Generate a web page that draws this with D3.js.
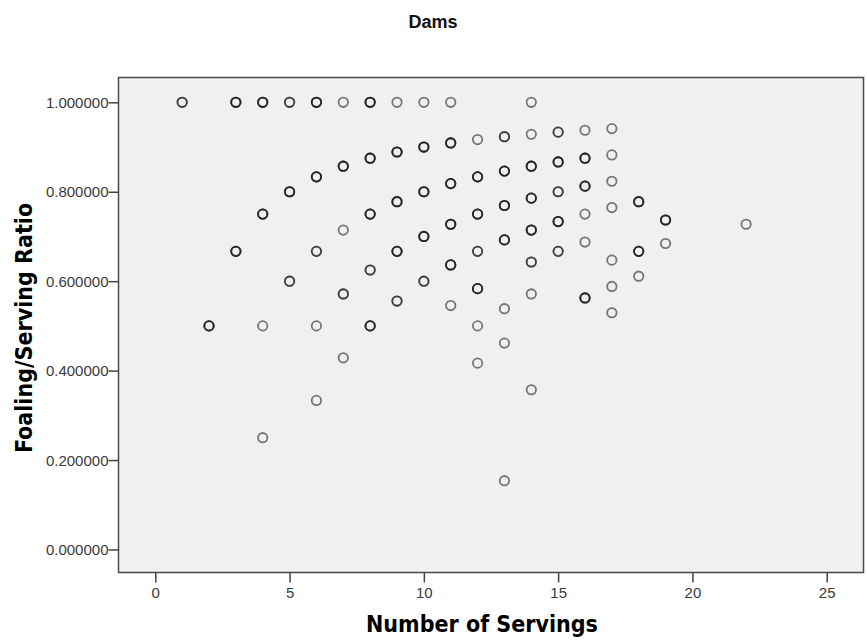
<!DOCTYPE html>
<html>
<head>
<meta charset="utf-8">
<script src="https://cdn.jsdelivr.net/npm/d3@7"></script>
<style>
  html, body { margin: 0; padding: 0; background: #fff; }
  svg { display: block; }
</style>
</head>
<body>
<svg id="chart" width="867" height="642"></svg>
<script>
// Dams: number of servings vs. foaling/serving ratio.
// Each record: servings, foalings, and how many dams share that exact point.
const servings = [
  1,
  2,
  3, 3,
  4, 4, 4, 4,
  5, 5, 5,
  6, 6, 6, 6, 6,
  7, 7, 7, 7, 7,
  8, 8, 8, 8, 8,
  9, 9, 9, 9, 9,
  10, 10, 10, 10, 10,
  11, 11, 11, 11, 11, 11,
  12, 12, 12, 12, 12, 12, 12,
  13, 13, 13, 13, 13, 13, 13,
  14, 14, 14, 14, 14, 14, 14, 14,
  15, 15, 15, 15, 15,
  16, 16, 16, 16, 16, 16,
  17, 17, 17, 17, 17, 17, 17,
  18, 18, 18,
  19, 19,
  22
];
const foalings = [
  1,
  1,
  3, 2,
  4, 3, 2, 1,
  5, 4, 3,
  6, 5, 4, 3, 2,
  7, 6, 5, 4, 3,
  8, 7, 6, 5, 4,
  9, 8, 7, 6, 5,
  10, 9, 8, 7, 6,
  11, 10, 9, 8, 7, 6,
  11, 10, 9, 8, 7, 6, 5,
  12, 11, 10, 9, 7, 6, 2,
  14, 13, 12, 11, 10, 9, 8, 5,
  14, 13, 12, 11, 10,
  15, 14, 13, 12, 11, 9,
  16, 15, 14, 13, 11, 10, 9,
  14, 12, 11,
  14, 13,
  16
];
const damCounts = [
  2,
  3,
  3, 3,
  3, 3, 1, 1,
  2, 3, 2,
  3, 3, 2, 1, 1,
  1, 3, 1, 2, 1,
  3, 3, 3, 2, 3,
  1, 3, 3, 3, 2,
  1, 3, 3, 3, 2,
  1, 3, 3, 3, 3, 1,
  1, 3, 3, 2, 3, 1, 1,
  2, 3, 3, 3, 1, 1, 1,
  1, 1, 3, 3, 3, 2, 1, 1,
  2, 3, 2, 3, 2,
  1, 3, 3, 1, 1, 3,
  1, 1, 1, 1, 1, 1, 1,
  3, 3, 1,
  3, 1,
  1
];
const xTicks = [0, 5, 10, 15, 20, 25];
const yTicks = [0, 0.2, 0.4, 0.6, 0.8, 1.0];

const chartTitle = "Dams";
const xTitle = "Number of Servings";
const yTitle = "Foaling/Serving Ratio";

// Expand each point into one record per dam so overlapping circles darken
const records = [];
servings.forEach((s, i) => {
  for (let c = 0; c < damCounts[i]; c++) {
    records.push({ servings: s, ratio: foalings[i] / s });
  }
});

const plot = { left: 118.5, right: 863.5, top: 77.5, bottom: 572.5 };

const x = d3.scaleLinear().domain([-1.37, 26.37]).range([plot.left, plot.right]);
const y = d3.scaleLinear().domain([-0.0515, 1.0555]).range([plot.bottom, plot.top]);

const svg = d3.select("#chart");

// Plot area background
svg.append("rect")
  .attr("x", plot.left).attr("y", plot.top)
  .attr("width", plot.right - plot.left)
  .attr("height", plot.bottom - plot.top)
  .attr("fill", "#f0f0f0");

// Axes
const xAxis = d3.axisBottom(x).tickValues(xTicks).tickSize(10).tickSizeOuter(0)
  .tickFormat(d3.format("d"));
const yAxis = d3.axisLeft(y).tickValues(yTicks).tickSize(10).tickSizeOuter(0)
  .tickFormat(d3.format(".6f"));

const gx = svg.append("g")
  .attr("transform", `translate(0,${plot.bottom})`)
  .call(xAxis);
const gy = svg.append("g")
  .attr("transform", `translate(${plot.left},0)`)
  .call(yAxis);

[gx, gy].forEach(g => {
  g.select(".domain").remove();
  g.selectAll(".tick line").attr("stroke", "#444").attr("stroke-width", 1.5);
  g.selectAll(".tick text")
    .attr("fill", "#3a3a3a")
    .attr("font-family", "Arial, 'Liberation Sans', sans-serif")
    .attr("font-size", "15px");
});
gx.selectAll(".tick text").attr("y", 15).attr("dy", "0.71em");
gy.selectAll(".tick text").attr("x", -10).attr("dy", "0.35em");

// Frame around the plot area
svg.append("rect")
  .attr("x", plot.left).attr("y", plot.top)
  .attr("width", plot.right - plot.left)
  .attr("height", plot.bottom - plot.top)
  .attr("fill", "none")
  .attr("stroke", "#4a4a4a")
  .attr("stroke-width", 1.5);

// Points
svg.append("g")
  .selectAll("circle")
  .data(records)
  .join("circle")
  .attr("cx", d => x(d.servings))
  .attr("cy", d => y(d.ratio))
  .attr("r", 4.7)
  .attr("fill", "none")
  .attr("stroke", "#111")
  .attr("stroke-opacity", 0.55)
  .attr("stroke-width", 1.8);

// Titles
svg.append("text")
  .attr("x", 433).attr("y", 28)
  .attr("text-anchor", "middle")
  .attr("font-family", "Arial, 'Liberation Sans', sans-serif")
  .attr("font-weight", "bold")
  .attr("font-size", "18px")
  .attr("fill", "#111")
  .text(chartTitle);

svg.append("text")
  .attr("x", (plot.left + plot.right) / 2 - 9).attr("y", 632)
  .attr("text-anchor", "middle")
  .attr("font-family", "'DejaVu Sans Condensed', 'DejaVu Sans', sans-serif")
  .attr("font-weight", "bold")
  .attr("font-size", "23px")
  .attr("fill", "#000")
  .text(xTitle);

svg.append("text")
  .attr("transform", `translate(32,${(plot.top + plot.bottom) / 2 + 3}) rotate(-90)`)
  .attr("text-anchor", "middle")
  .attr("font-family", "'DejaVu Sans Condensed', 'DejaVu Sans', sans-serif")
  .attr("font-weight", "bold")
  .attr("font-size", "23px")
  .attr("fill", "#000")
  .text(yTitle);
</script>
</body>
</html>
